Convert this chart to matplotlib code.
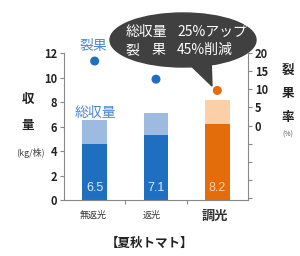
# 夏秋トマト 収量・裂果率グラフ

import matplotlib.pyplot as plt
from matplotlib.patches import Ellipse, Polygon

plt.rcParams['font.family'] = ['Noto Sans CJK JP', 'DejaVu Sans']

categories = ["無返光", "返光", "調光"]
total_yield = [6.5, 7.1, 8.2]
base_yield = [4.6, 5.3, 6.2]
crack_rate = [17.8, 12.8, 9.7]
value_labels = ["6.5", "7.1", "8.2"]

dark_colors = ["#1f6fc0", "#1f6fc0", "#e46c0a"]
light_colors = ["#9dbbe0", "#9dbbe0", "#fbcfa7"]
text_colors = ["#dce8f6", "#dce8f6", "#fbd4b4"]

fig = plt.figure(figsize=(3.0, 2.56), dpi=100)
ax = fig.add_axes([0.2133, 0.21875, 0.6133, 0.574])
x = list(range(len(categories)))

ax.bar(x, base_yield, width=0.4, color=dark_colors, zorder=2)
ax.bar(x, [t - b for t, b in zip(total_yield, base_yield)], bottom=base_yield,
       width=0.4, color=light_colors, zorder=2)
for i, v in enumerate(value_labels):
   ax.text(x[i], 1.0, v, ha="center", va="center", fontsize=9, color=text_colors[i],
           family=["Liberation Sans", "DejaVu Sans"])

ax.set_xlim(-0.5, 2.5)
ax.set_ylim(0, 12)
ax.set_yticks(range(0, 13, 2))
ax.set_xticks([0.5, 1.5])
ax.set_xticklabels([])
ax.tick_params(axis="x", length=3, color="#888888")
ax.tick_params(axis="y", length=3, color="#888888", labelsize=8, labelcolor="#222222", pad=2)
for lab in ax.get_yticklabels():
   lab.set_fontweight("bold")
ax.spines["top"].set_visible(False)
ax.spines["right"].set_visible(False)
for s in ["left", "bottom"]:
   ax.spines[s].set_color("#888888")

ax2 = ax.twinx()
ax2.set_ylim(-20.5, 20)
ax2.set_yticks(range(-20, 21, 5))
ax2.set_yticklabels(["", "", "", "", "0", "5", "10", "15", "20"])
ax2.tick_params(axis="y", length=3, color="#888888", labelsize=8, labelcolor="#222222", pad=2)
for lab in ax2.get_yticklabels():
   lab.set_fontweight("bold")
for s in ["top", "left", "bottom"]:
   ax2.spines[s].set_visible(False)
ax2.spines["right"].set_color("#888888")
ax2.scatter(x, crack_rate, s=30, color=dark_colors, zorder=3)

# ラベル
fig.text(94 / 300, 1 - 46 / 256, "裂果", ha="center", va="center", fontsize=10, color="#4a86cc")
fig.text(95 / 300, 1 - 113 / 256, "総収量", ha="center", va="center", fontsize=10, color="#4a86cc")
fig.text(28 / 300, 1 - 100 / 256, "収", ha="center", va="center", fontsize=9, fontweight="bold", color="#222222")
fig.text(28 / 300, 1 - 125 / 256, "量", ha="center", va="center", fontsize=9, fontweight="bold", color="#222222")
fig.text(30 / 300, 1 - 153 / 256, "(kg/株)", ha="center", va="center", fontsize=6.5, color="#444444")
fig.text(288 / 300, 1 - 70 / 256, "裂", ha="center", va="center", fontsize=9, fontweight="bold", color="#222222")
fig.text(288 / 300, 1 - 93 / 256, "果", ha="center", va="center", fontsize=9, fontweight="bold", color="#222222")
fig.text(288 / 300, 1 - 117 / 256, "率", ha="center", va="center", fontsize=9, fontweight="bold", color="#222222")
fig.text(288 / 300, 1 - 135 / 256, "(%)", ha="center", va="center", fontsize=5, color="#555555")
fig.text(93 / 300, 1 - 215 / 256, categories[0], ha="center", va="center", fontsize=6.5, color="#333333")
fig.text(152 / 300, 1 - 215 / 256, categories[1], ha="center", va="center", fontsize=6.5, color="#333333")
fig.text(215 / 300, 1 - 216 / 256, categories[2], ha="center", va="center", fontsize=9.5, fontweight="bold", color="#333333")
fig.text(149 / 300, 1 - 243 / 256, "【夏秋トマト】", ha="center", va="center", fontsize=9, fontweight="bold", color="#222222")

# 吹き出し
bx = fig.add_axes([0, 0, 1, 1], zorder=5)
bx.set_xlim(0, 300)
bx.set_ylim(256, 0)
bx.axis("off")
bx.add_patch(Polygon([[185, 60], [211, 58], [212, 86]], closed=True, color="#404040"))
bx.add_patch(Ellipse((183, 40), 146, 54, color="#404040"))
fs = 10
bx.text(126, 32, "総収量", ha="left", va="center", fontsize=fs, color="white")
bx.text(177, 32, "25%アップ", ha="left", va="center", fontsize=fs, color="white")
bx.text(126, 50, "裂", ha="left", va="center", fontsize=fs, color="white")
bx.text(152, 50, "果", ha="left", va="center", fontsize=fs, color="white")
bx.text(177, 50, "45%削減", ha="left", va="center", fontsize=fs, color="white")

fig.savefig("out.png", dpi=100)
